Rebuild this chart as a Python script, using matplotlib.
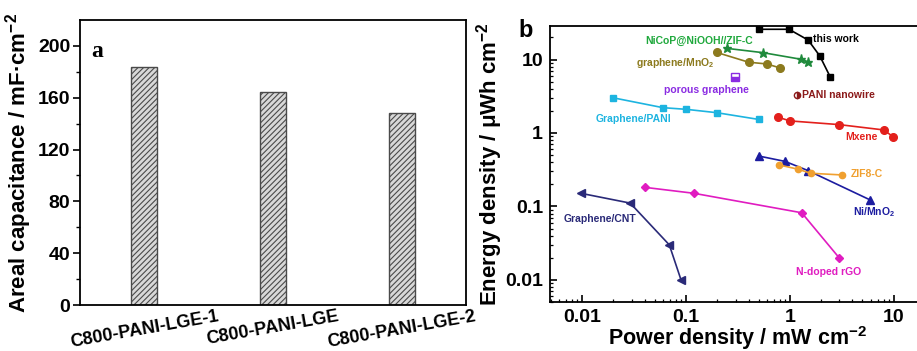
import matplotlib
matplotlib.use("Agg")
import matplotlib.pyplot as plt
import matplotlib.transforms as mtransforms
import numpy as np

plt.rcParams['font.family'] = ['Liberation Sans', 'DejaVu Sans']
plt.rcParams['font.weight'] = 'bold'
plt.rcParams['axes.labelweight'] = 'bold'
plt.rcParams['mathtext.fontset'] = 'custom'
plt.rcParams['mathtext.rm'] = 'Liberation Sans:bold'
plt.rcParams['mathtext.default'] = 'rm'
plt.rcParams['hatch.linewidth'] = 0.8

# --- panel a: areal capacitance
samples = ['C800-PANI-LGE-1', 'C800-PANI-LGE', 'C800-PANI-LGE-2']
capacitance = [184, 164.5, 148.3]

# --- panel b: Ragone plot (power mW cm-2, energy uWh cm-2)
this_work_p = [0.50, 0.98, 1.50, 1.94, 2.46]
this_work_e = [25.8, 25.8, 18.4, 11.2, 5.7]
nicop_p = [0.246, 0.55, 1.27, 1.50]
nicop_e = [14.2, 12.4, 10.1, 9.3]
gmno2_p = [0.197, 0.40, 0.60, 0.80]
gmno2_e = [12.5, 9.2, 8.7, 7.7]
porous_p = [0.296]
porous_e = [5.8]
pani_nw_p = [1.16]
pani_nw_e = [3.3]
gpani_p = [0.0197, 0.060, 0.10, 0.197, 0.50]
gpani_e = [3.02, 2.21, 2.10, 1.89, 1.53]
mxene_p = [0.77, 1.0, 2.98, 8.0, 9.85]
mxene_e = [1.64, 1.46, 1.30, 1.10, 0.89]
nimno2_p = [0.50, 0.90, 1.50, 5.97]
nimno2_e = [0.486, 0.41, 0.307, 0.122]
zif8_p = [0.79, 1.20, 1.58, 3.21]
zif8_e = [0.367, 0.321, 0.283, 0.268]
ndoped_p = [0.040, 0.119, 1.30, 2.98]
ndoped_e = [0.182, 0.151, 0.082, 0.020]
gcnt_p = [0.0097, 0.029, 0.069, 0.0895]
gcnt_e = [0.151, 0.111, 0.030, 0.010]

fig = plt.figure(figsize=(9.17, 3.51), dpi=100)

# ---------------- panel a
ax1 = fig.add_axes([80/917, 1-305/351, 386/917, 285/351])
x = np.arange(len(samples))
ax1.bar(x, capacitance, width=0.2, color='#d8d8d8', edgecolor='#4a4a4a',
        hatch='//////', linewidth=1.0)
ax1.set_xlim(-0.5, 2.5)
ax1.set_ylim(0, 220)
ax1.set_yticks([0, 40, 80, 120, 160, 200])
ax1.set_yticks(np.arange(20, 220, 40), minor=True)
ax1.set_xticks(x)
ax1.set_xticklabels(samples, rotation=10, fontsize=13, ha='center')
offset = mtransforms.ScaledTranslation(-0.12, 0.06, fig.dpi_scale_trans)
for lab in ax1.get_xticklabels():
    lab.set_transform(lab.get_transform() + offset)
ax1.tick_params(axis='x', length=0, pad=2)
ax1.tick_params(axis='y', which='major', direction='out', length=5, width=1.2,
                labelsize=14, pad=2)
ax1.tick_params(axis='y', which='minor', direction='out', length=3, width=1.0)
ax1.set_ylabel('Areal capacitance / mF·cm$^{-2}$', fontsize=16, labelpad=3)
ax1.text(0.03, 0.87, 'a', transform=ax1.transAxes, fontsize=17,
         fontweight='bold', family='Liberation Serif')
for s in ax1.spines.values():
    s.set_linewidth(1.3)

# ---------------- panel b
ax2 = fig.add_axes([550/917, 1-302/351, 375/917, 276/351])
ax2.set_xscale('log')
ax2.set_yscale('log')

lw = 1.2
ms = 4.5
ax2.plot(this_work_p, this_work_e, '-s', color='black', lw=lw, ms=ms)
ax2.plot(nicop_p, nicop_e, '-*', color='#1f8a3c', lw=lw, ms=ms+2)
ax2.plot(gmno2_p, gmno2_e, '-o', color='#8c7a1e', lw=lw, ms=ms+1)
ax2.plot(porous_p, porous_e, 's', color='#8a2be2', ms=ms+1,
         fillstyle='bottom', markerfacecoloralt='white')
ax2.plot(pani_nw_p, pani_nw_e, 'o', color='#8b1a1a', ms=ms,
         fillstyle='right', markerfacecoloralt='white')
ax2.plot(gpani_p, gpani_e, '-s', color='#1db4e0', lw=lw, ms=ms)
ax2.plot(mxene_p, mxene_e, '-o', color='#e3201c', lw=lw, ms=ms+1)
ax2.plot(nimno2_p, nimno2_e, '-^', color='#1c1ca0', lw=lw, ms=ms+1)
ax2.plot(zif8_p, zif8_e, '-o', color='#f0a030', lw=lw, ms=ms)
ax2.plot(ndoped_p, ndoped_e, '-D', color='#e01cc0', lw=lw, ms=ms)
ax2.plot(gcnt_p, gcnt_e, '-<', color='#2a2a78', lw=lw, ms=ms+1)

fs = 7.5
ax2.text(1.66, 19, 'this work', color='black', fontsize=fs, va='center')
ax2.text(0.133, 17.9, 'NiCoP@NiOOH//ZIF-C', color='#1fa83c', fontsize=fs,
         ha='center', va='center')
ax2.text(0.078, 9.0, 'graphene/MnO$_2$', color='#8c7a1e', fontsize=fs,
         ha='center', va='center')
ax2.text(0.156, 3.85, 'porous graphene', color='#8a2be2', fontsize=fs,
         ha='center', va='center')
ax2.text(1.30, 3.3, 'PANI nanowire', color='#8b1a1a', fontsize=fs, va='center')
ax2.text(0.0313, 1.53, 'Graphene/PANI', color='#1db4e0', fontsize=fs,
         ha='center', va='center')
ax2.text(4.92, 0.875, 'Mxene', color='#e3201c', fontsize=fs,
         ha='center', va='center')
ax2.text(3.86, 0.28, 'ZIF8-C', color='#f0a030', fontsize=fs, va='center')
ax2.text(6.4, 0.085, 'Ni/MnO$_2$', color='#1c1ca0', fontsize=fs,
         ha='center', va='center')
ax2.text(0.0149, 0.0676, 'Graphene/CNT', color='#2a2a78', fontsize=fs,
         ha='center', va='center')
ax2.text(2.37, 0.013, 'N-doped rGO', color='#e01cc0', fontsize=fs,
         ha='center', va='center')

ax2.set_xlim(0.0049, 20)
ax2.set_ylim(0.005, 28.6)
ax2.set_xticks([0.01, 0.1, 1, 10])
ax2.set_xticklabels(['0.01', '0.1', '1', '10'])
ax2.set_yticks([0.01, 0.1, 1, 10])
ax2.set_yticklabels(['0.01', '0.1', '1', '10'])
ax2.tick_params(which='major', direction='in', length=5, width=1.2,
                labelsize=14, pad=5)
ax2.tick_params(which='minor', direction='in', length=2.5, width=0.9)
ax2.set_xlabel('Power density / mW cm$^{-2}$', fontsize=15.5, labelpad=-1)
ax2.set_ylabel('Energy density / μWh cm$^{-2}$', fontsize=16, labelpad=0)
ax2.text(-0.065, 0.985, 'b', transform=ax2.transAxes, fontsize=17,
         fontweight='bold', va='center', ha='center')
for s in ax2.spines.values():
    s.set_linewidth(1.3)

fig.savefig('out.png', dpi=100)
